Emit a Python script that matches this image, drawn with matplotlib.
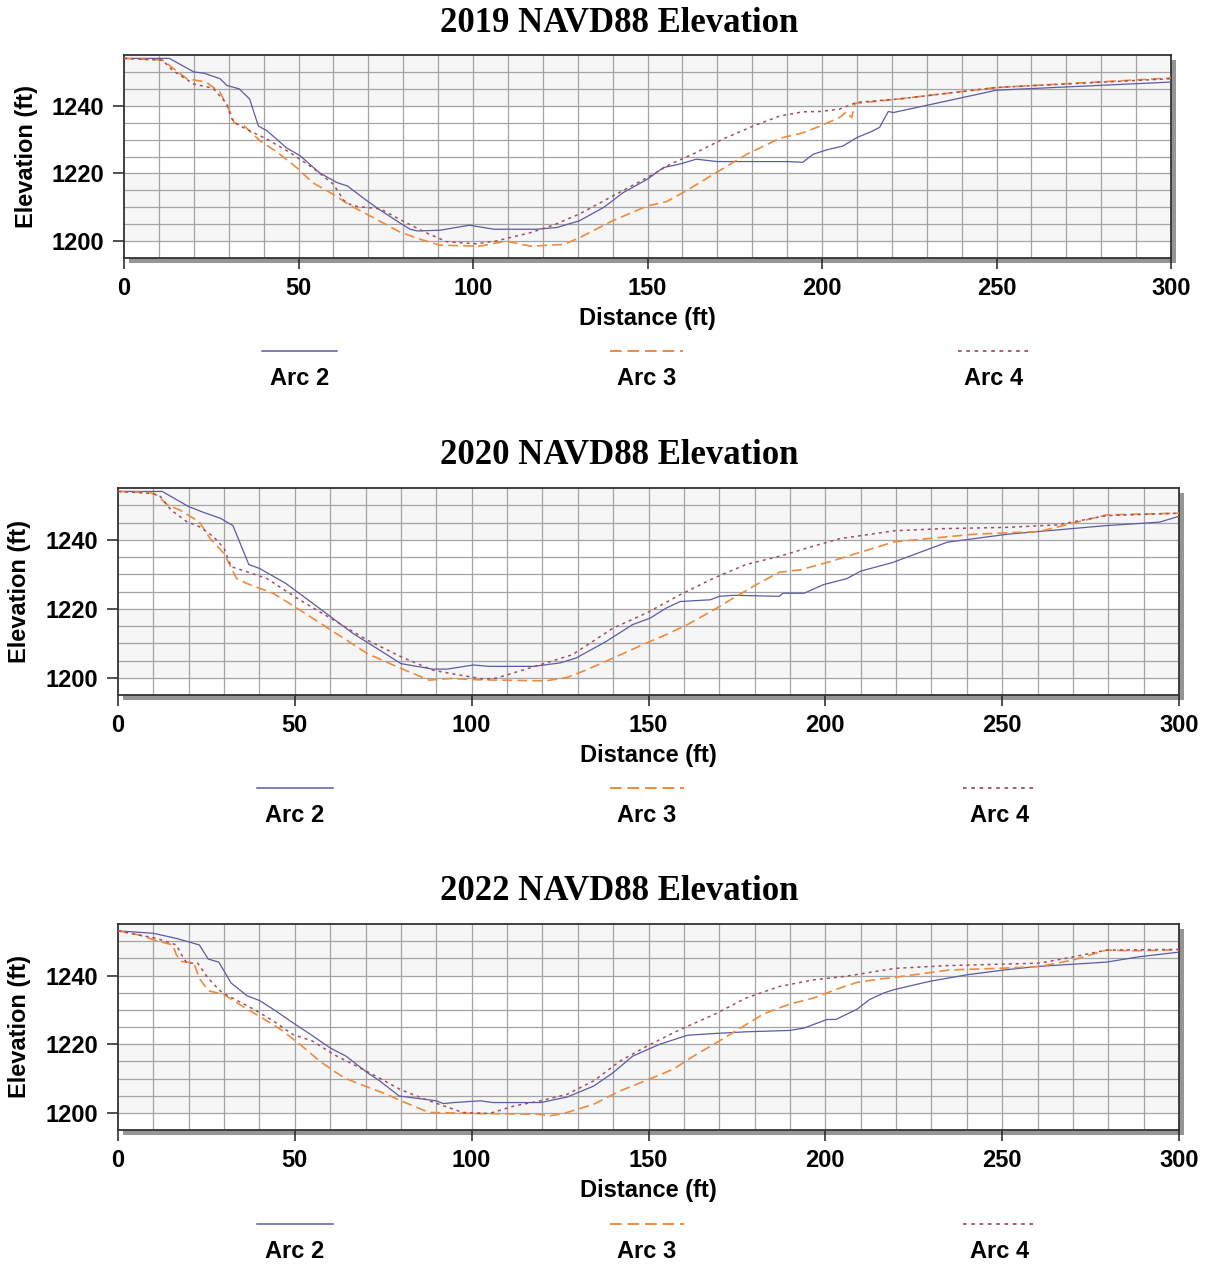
import matplotlib.pyplot as plt
from matplotlib.patches import Rectangle
from matplotlib.lines import Line2D

# ---- data (distance ft, elevation ft) ----
d19_a2 = [0, 13, 20, 23, 27.5, 29.5, 33, 36, 38.5, 41, 46.5, 50.5, 56, 61, 64, 69.5, 73.5, 79, 82, 84, 90.5, 99, 106, 118, 124,
          130.5, 137.5, 143, 150, 154.5, 159, 164, 170, 190, 194.5, 197.5, 201.5, 206, 210, 214, 216.5, 219, 220.5, 250, 300]
e19_a2 = [1254, 1254, 1250, 1249.6, 1248, 1246, 1245, 1242, 1234, 1232.6, 1227.6, 1225.2, 1220.2, 1217.3, 1216.3, 1212, 1209.1,
          1205.4, 1203.5, 1203, 1203.2, 1204.7, 1203.5, 1203.5, 1204, 1206, 1210, 1214.3, 1218.3, 1221.7, 1222.7, 1224.2, 1223.5,
          1223.5, 1223.3, 1225.7, 1227, 1228.1, 1230.6, 1232.3, 1233.6, 1238.3, 1238, 1244.6, 1247]
d19_a3 = [0, 11, 18, 23.5, 27.5, 30.5, 31.5, 34.5, 39, 44, 49.5, 54, 60, 65, 69.5, 74, 79, 85, 90.5, 102, 109.5, 116.5, 126, 130.5,
          140, 150, 155.5, 161, 169, 178.5, 188, 194.5, 199.5, 205, 207, 208.5, 209.5, 222, 250, 300]
e19_a3 = [1254, 1253.5, 1248, 1247, 1244, 1238, 1235, 1234, 1229.6, 1226.2, 1221.7, 1217.3, 1213.8, 1210.4, 1208, 1205.5, 1202.7,
          1200.5, 1198.8, 1198.5, 1200, 1198.5, 1199, 1201, 1206, 1210.4, 1211.7, 1214.8, 1219.8, 1225.7, 1230.4, 1232, 1234,
          1236.5, 1238.2, 1236.5, 1240.7, 1242, 1245.4, 1248.2]
d19_a4 = [0, 11, 14, 20, 25.5, 29.5, 30.5, 31.5, 35, 41, 47.5, 54, 60, 63, 65.5, 73.5, 79, 86.5, 92.5, 101, 106.5, 116.5, 123,
          130.5, 140, 150, 156.5, 164, 171.5, 180.5, 188, 194.5, 199.5, 205, 210, 222, 250, 300]
e19_a4 = [1254, 1253.5, 1250.4, 1246.4, 1245.2, 1240.5, 1237, 1235.1, 1233.1, 1230.1, 1226.2, 1221.7, 1216.8, 1212, 1210.4,
          1209.5, 1206.4, 1202.5, 1199.8, 1199.2, 1200, 1202.5, 1204.7, 1208, 1213.3, 1218.8, 1222.7, 1226.2, 1230.1, 1234.1,
          1237, 1238.2, 1238.3, 1239, 1241, 1242, 1245.4, 1248]

d20_a2 = [0, 12.5, 20, 24, 29, 32.5, 37, 40, 47.5, 57, 66.5, 74, 80, 89, 93, 100.5, 105, 117.5, 125, 129.5, 138, 145.5, 150.5,
          155, 159, 167.5, 170, 174, 187, 188, 194, 199.5, 206, 210, 219, 234.5, 251.5, 279.5, 294.5, 300]
e20_a2 = [1254, 1254, 1249.6, 1248, 1246.2, 1244.1, 1232.8, 1231.7, 1227.3, 1220.1, 1212.8, 1208, 1204.1, 1202.5, 1202.5,
          1203.7, 1203.3, 1203.3, 1204.3, 1205.7, 1210.5, 1215.4, 1217.3, 1220.2, 1222.1, 1222.6, 1223.6, 1223.9, 1223.6,
          1224.5, 1224.5, 1227, 1228.7, 1230.9, 1233.4, 1239.3, 1241.6, 1244.1, 1245.1, 1246.8]
d20_a3 = [0, 9, 11, 14, 17.5, 23, 26, 30, 33.5, 36.5, 44, 51.5, 61, 70.5, 80, 88, 94, 102, 108, 121, 127, 132.5, 140, 149.5,
          155, 161, 168.5, 174, 180.5, 187, 193, 196.5, 201.5, 204, 209, 219.5, 242, 260.5, 279.5, 300]
e20_a3 = [1254, 1253.7, 1252.9, 1250.1, 1248.6, 1245.2, 1240.4, 1236, 1228.8, 1227.3, 1224.4, 1219.6, 1213.3, 1207, 1202.7,
          1199.3, 1199.8, 1199.4, 1199.3, 1199.1, 1200.1, 1202.3, 1205.7, 1210.1, 1212.5, 1215.4, 1219.7, 1223.1, 1227, 1230.6,
          1231.3, 1232.3, 1233.7, 1234.5, 1236.1, 1239.4, 1241.6, 1242.4, 1247.2, 1247.7]
d20_a4 = [0, 10, 12, 15, 19.5, 23, 27, 30, 32, 36.5, 42, 51.5, 61, 70.5, 80, 89, 96.5, 103.5, 107, 119.5, 128.5, 140, 149.5,
          159, 168.5, 177.5, 187, 196.5, 204, 219.5, 232.5, 251.5, 265.5, 279.5, 300]
e20_a4 = [1254, 1253.4, 1252.5, 1248.6, 1245.2, 1243.8, 1240.9, 1237.5, 1232.2, 1230.7, 1228.8, 1222.5, 1216.7, 1210.9, 1206.1,
          1202.2, 1200.8, 1199.6, 1199.9, 1203.8, 1206.7, 1214.4, 1218.8, 1224.1, 1228.9, 1232.8, 1235.2, 1238.1, 1240.3,
          1242.6, 1243.2, 1243.6, 1244.3, 1247, 1247.7]

d22_a2 = [0, 10, 16.5, 23, 25.5, 28.5, 32, 36.5, 40, 44, 49.5, 54.5, 60, 64.5, 70.5, 74, 79.5, 90, 92, 95, 102.5, 106, 119.5,
          127, 134.5, 140, 145.5, 153, 161, 168.5, 177.5, 190, 194, 200.5, 203, 209, 212.5, 216.5, 219.5, 229.5, 240, 250.5,
          259.5, 279.5, 289, 300]
e22_a2 = [1253, 1252.3, 1250.8, 1248.9, 1244.8, 1243.9, 1237.8, 1234.1, 1232.7, 1230.1, 1226.2, 1222.8, 1218.9, 1216.5, 1211.7,
          1209.3, 1204.9, 1203.5, 1202.7, 1203, 1203.5, 1203, 1203, 1204.6, 1207.8, 1211.7, 1216.5, 1219.9, 1222.6, 1223.1,
          1223.6, 1224, 1224.7, 1227.2, 1227.2, 1230.2, 1233, 1234.9, 1235.9, 1238.3, 1240.2, 1241.6, 1242.6, 1243.9, 1245.5,
          1246.8]
d22_a3 = [0, 6, 11, 15.5, 16.5, 18, 21.5, 23, 25.5, 30, 34.5, 40, 46, 51.5, 57, 61, 64, 68.5, 75, 80, 88, 102, 119, 122, 127,
          134.5, 142, 149.5, 157, 163.5, 170, 176, 182.5, 190, 196.5, 204, 209, 215.5, 218.5, 235, 249.5, 260.5, 270, 279.5,
          287, 300]
e22_a3 = [1253, 1251.8, 1250.1, 1248.9, 1246, 1244.1, 1243.6, 1239.2, 1235.6, 1234.4, 1231.5, 1228.1, 1224.3, 1219.9, 1215.1,
          1212.2, 1210.2, 1208.3, 1205.8, 1203.5, 1200.1, 1199.8, 1199.6, 1199.1, 1200.1, 1202.5, 1206.4, 1209.5, 1212.7, 1217,
          1220.9, 1224.7, 1228.8, 1231.7, 1233.4, 1236.3, 1238, 1239, 1239.3, 1241.6, 1242.1, 1242.6, 1244.5, 1247.4, 1247.2,
          1247.5]
d22_a4 = [0, 11, 16.5, 18, 19.5, 22.5, 25.5, 29, 31.5, 38.5, 44, 49.5, 55, 61, 66.5, 72, 80, 88, 97.5, 105, 112, 119.5, 127,
          134.5, 142, 149.5, 159, 168.5, 177.5, 187, 196.5, 206, 215.5, 220, 235, 249.5, 260.5, 268, 279.5, 300]
e22_a4 = [1253, 1250.8, 1248.9, 1246, 1243.6, 1243.6, 1239.2, 1235.4, 1233.9, 1230.1, 1226.7, 1222.8, 1220.9, 1217, 1214.1,
          1211.2, 1206.7, 1203.5, 1200.1, 1199.8, 1202, 1203.5, 1205.4, 1209.3, 1215.1, 1219.4, 1224.3, 1228.6, 1233.4, 1236.8,
          1238.7, 1239.8, 1241.4, 1242.1, 1242.9, 1243.3, 1243.6, 1245, 1247.4, 1247.6]

titles = ["2019 NAVD88 Elevation", "2020 NAVD88 Elevation", "2022 NAVD88 Elevation"]
arc_names = ["Arc 2", "Arc 3", "Arc 4"]
xticks = [0, 50, 100, 150, 200, 250, 300]
yticks = [1200, 1220, 1240]

panels = [
    [(d19_a2, e19_a2), (d19_a3, e19_a3), (d19_a4, e19_a4)],
    [(d20_a2, e20_a2), (d20_a3, e20_a3), (d20_a4, e20_a4)],
    [(d22_a2, e22_a2), (d22_a3, e22_a3), (d22_a4, e22_a4)],
]

W, H = 1206, 1268
c_blue = '#5b5ba6'
c_orange = '#f08a3c'
c_dot = '#a0505e'
styles = [dict(color=c_blue, lw=0.9, ls='-'),
          dict(color=c_orange, lw=1.2, ls=(0, (6, 3))),
          dict(color=c_dot, lw=1.1, ls=(0, (2, 2.6)))]

# axes boxes in pixels: left, top, right, bottom
boxes = [(124, 55, 1171, 258), (118, 488, 1179, 695), (118, 924, 1179, 1130)]
title_y = [23, 456, 891]
ylabel_x = [27, 20, 20]
leg_line_y = [351, 788, 1224]
leg_x = [[(262, 337), (610, 683), (958, 1030)],
         [(257, 333), (610, 684), (963, 1036)],
         [(257, 333), (610, 684), (963, 1036)]]

plt.rcParams['font.family'] = ['Liberation Sans', 'DejaVu Sans']
fig = plt.figure(figsize=(W / 100, H / 100), dpi=100)
fig.patch.set_facecolor('white')

for i, box in enumerate(boxes):
    l, t, r, b = box
    ax = fig.add_axes([l / W, 1 - b / H, (r - l) / W, (b - t) / H])
    # drop shadow
    fig.patches.append(Rectangle(((l + 5) / W, 1 - (b + 5) / H), (r - l) / W, (b - t) / H,
                                 transform=fig.transFigure, facecolor='#959595',
                                 edgecolor='none', zorder=-1))
    ax.set_xlim(0, 300)
    ax.set_ylim(1195, 1255)
    ax.axhspan(1240, 1260, color='#f6f6f6', zorder=0, lw=0)
    ax.axhspan(1200, 1220, color='#f6f6f6', zorder=0, lw=0)
    for gx in range(10, 300, 10):
        ax.axvline(gx, color='#a4a4a4', lw=0.9, zorder=1)
    for gy in range(1200, 1255, 5):
        ax.axhline(gy, color='#a4a4a4', lw=0.9, zorder=1)

    for (d, e), st in zip(panels[i], styles):
        ax.plot(d, e, zorder=3, **st)

    ax.set_xticks(xticks)
    ax.set_yticks(yticks)
    ax.tick_params(direction='out', length=8, width=1.1, color='#222222', pad=6, labelsize=17)
    for lab in ax.get_xticklabels() + ax.get_yticklabels():
        lab.set_fontweight('bold')
    for sp in ax.spines.values():
        sp.set_color('#333333')
        sp.set_linewidth(1.3)
    ax.set_xlabel('Distance (ft)', fontsize=17, fontweight='bold', labelpad=5)

    fig.text(ylabel_x[i] / W, 1 - (t + b) / 2 / H, 'Elevation (ft)', rotation=90,
             ha='center', va='center', fontsize=17, fontweight='bold')
    fig.text(619 / W, 1 - title_y[i] / H, titles[i], ha='center', va='center',
             fontsize=25, fontweight='bold', family='Liberation Serif')

    # legend: line sample with label underneath
    for (x0, x1), st, name in zip(leg_x[i], styles, arc_names):
        yy = 1 - leg_line_y[i] / H
        fig.lines.append(Line2D([x0 / W, x1 / W], [yy, yy], transform=fig.transFigure,
                                color=st['color'], lw=st['lw'] + 0.2, ls=st['ls']))
        fig.text((x0 + x1) / 2 / W, 1 - (leg_line_y[i] + 28) / H, name, ha='center', va='center',
                 fontsize=17, fontweight='bold')

fig.savefig('out.png', dpi=100)
